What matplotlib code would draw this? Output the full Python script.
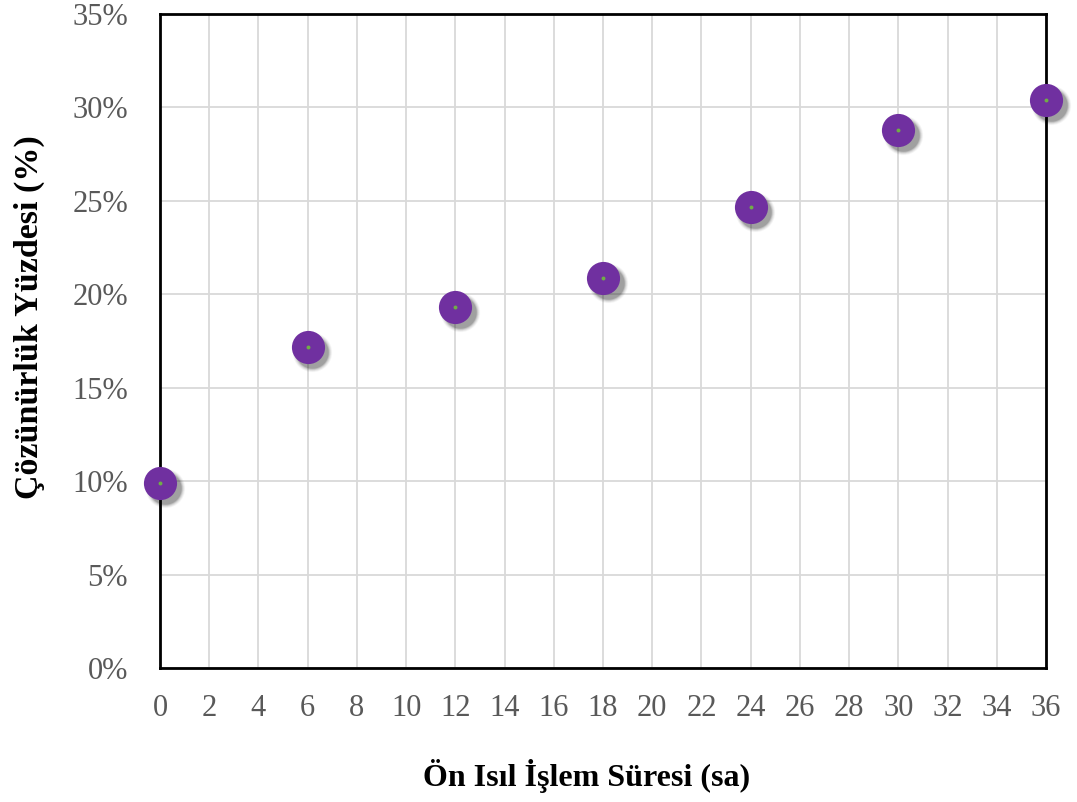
import matplotlib
matplotlib.use("Agg")
import matplotlib.pyplot as plt
import matplotlib.transforms as mtransforms
from matplotlib.ticker import FuncFormatter, MultipleLocator

# Pre-heat-treatment time (hours) and solubility percentage
sure_sa = [0, 6, 12, 18, 24, 30, 36]
cozunurluk = [0.099, 0.172, 0.193, 0.209, 0.247, 0.288, 0.304]

x_ticks = list(range(0, 37, 2))

plt.rcParams['font.family'] = ['Liberation Serif', 'DejaVu Serif']

fig = plt.figure(figsize=(10.77, 8.02), dpi=100)
ax = fig.add_axes([0.1486, 0.167, 0.8226, 0.8155])

ax.set_xlim(0, 36)
ax.set_ylim(0, 0.35)
ax.set_xticks(x_ticks)
ax.yaxis.set_major_locator(MultipleLocator(0.05))
ax.yaxis.set_major_formatter(FuncFormatter(lambda v, _: f"{v*100:.0f}%"))

ax.grid(True, color='#d9d9d9', linewidth=1.3, zorder=0)
ax.set_axisbelow(True)
for s in ax.spines.values():
    s.set_color('black')
    s.set_linewidth(2)
    s.set_zorder(2)

ax.tick_params(axis='both', length=0, labelsize=22, labelcolor='#595959')
ax.tick_params(axis='x', pad=19)
ax.tick_params(axis='y', pad=23)

# soft drop shadow under each marker (stacked translucent discs)
shadow_layers = [(800, 0.04), (730, 0.06), (660, 0.08), (600, 0.11), (545, 0.14)]
tr = mtransforms.offset_copy(ax.transData, fig=fig, x=3.3, y=-3.6, units='points')
for sz, a in shadow_layers:
    ax.scatter(sure_sa, cozunurluk, s=sz, color='black', alpha=a, linewidths=0,
               transform=tr, zorder=3, clip_on=False)

ax.scatter(sure_sa, cozunurluk, s=570, color='#7030a0', linewidths=0, zorder=4, clip_on=False)
ax.scatter(sure_sa, cozunurluk, s=8, color='#70ad47', linewidths=0, zorder=5, clip_on=False)

fig.text(0.5446, 0.033, "Ön Isıl İşlem Süresi (sa)", ha='center', va='center',
         fontsize=23, fontweight='bold')
fig.text(0.027, 0.605, "Çözünürlük Yüzdesi (%)", ha='center', va='center',
         fontsize=24.5, fontweight='bold', rotation=90)

fig.savefig("out.png", dpi=100)
